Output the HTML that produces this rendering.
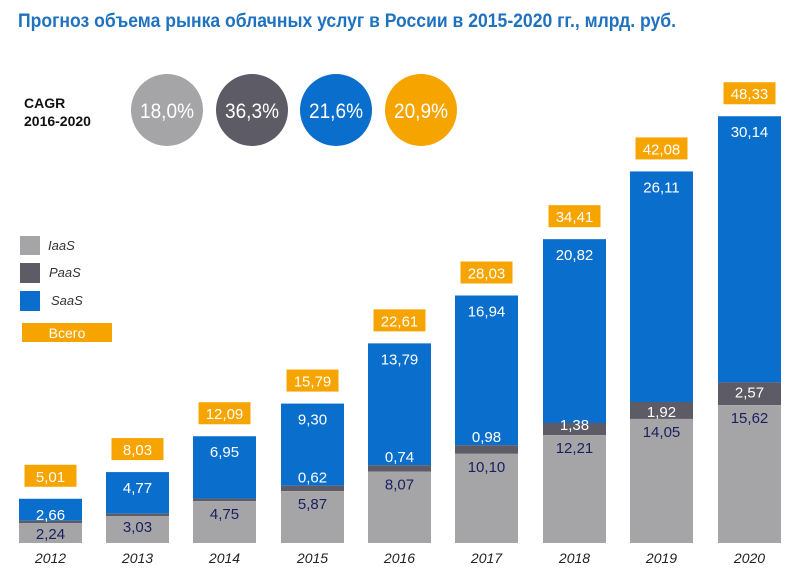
<!DOCTYPE html>
<html><head><meta charset="utf-8"><style>
html,body{margin:0;padding:0;background:#fff;}
svg{display:block;font-family:"Liberation Sans",sans-serif;}
</style></head><body>
<svg width="794" height="574" viewBox="0 0 794 574" xmlns="http://www.w3.org/2000/svg">
<text x="18" y="27" font-size="19" font-weight="bold" fill="#1f72bf" textLength="658" lengthAdjust="spacingAndGlyphs">Прогноз объема рынка облачных услуг в России в 2015-2020 гг., млрд. руб.</text>
<text x="24" y="108" font-size="14" font-weight="bold" fill="#111">CAGR</text>
<text x="24" y="126" font-size="14" font-weight="bold" fill="#111">2016-2020</text>
<circle cx="167" cy="110" r="36" fill="#a5a5a7"/>
<circle cx="252" cy="110" r="36" fill="#5c5b66"/>
<circle cx="336" cy="110" r="36" fill="#0a6fcc"/>
<circle cx="421" cy="110" r="36" fill="#f6a400"/>
<g font-size="21" fill="#fff" text-anchor="middle">
<text x="167" y="118" textLength="54" lengthAdjust="spacingAndGlyphs">18,0%</text>
<text x="252" y="118" textLength="54" lengthAdjust="spacingAndGlyphs">36,3%</text>
<text x="336" y="118" textLength="54" lengthAdjust="spacingAndGlyphs">21,6%</text>
<text x="421" y="118" textLength="54" lengthAdjust="spacingAndGlyphs">20,9%</text>
</g>
<rect x="20" y="236" width="20" height="19" fill="#a5a5a7"/>
<rect x="20" y="263" width="20" height="20" fill="#5c5b66"/>
<rect x="20" y="291" width="20" height="20" fill="#0a6fcc"/>
<g font-size="13" font-style="italic" fill="#333">
<text x="48" y="250">IaaS</text><text x="49" y="277">PaaS</text><text x="51" y="305">SaaS</text>
</g>
<rect x="22" y="323" width="90" height="19" fill="#f6a400"/>
<text x="67" y="338" font-size="14" fill="#fff" text-anchor="middle">Всего</text>
<g id="bars"></g>
</svg>
<script>
var d=[[2012,2.24,0,2.66,5.01],[2013,3.03,0,4.77,8.03],[2014,4.75,0,6.95,12.09],[2015,5.87,0.62,9.30,15.79],[2016,8.07,0.74,13.79,22.61],[2017,10.10,0.98,16.94,28.03],[2018,12.21,1.38,20.82,34.41],[2019,14.05,1.92,26.11,42.08],[2020,15.62,2.57,30.14,48.33]];
var xs=[19,106,193,281,368,455,543,630,718],B=543,k=8.83,w=63,s='';
function f(v){return v.toFixed(2).replace('.',',');}
d.forEach(function(r,i){var x=xs[i],c=x+w/2;
var g=B-r[1]*k,p=g-Math.max(r[2]*k,r[2]?0:2.5),t=B-r[4]*k;
s+='<rect x="'+x+'" y="'+t+'" width="'+w+'" height="'+(p-t)+'" fill="#0a6fcc"/>';
s+='<rect x="'+x+'" y="'+p+'" width="'+w+'" height="'+(g-p)+'" fill="#5c5b66"/>';
s+='<rect x="'+x+'" y="'+g+'" width="'+w+'" height="'+(B-g)+'" fill="#a5a5a7"/>';
s+='<rect x="'+(c-26)+'" y="'+(t-34)+'" width="52" height="22" fill="#f6a400"/>';
s+='<text x="'+c+'" y="'+(t-17)+'" font-size="15" fill="#fff" text-anchor="middle">'+f(r[4])+'</text>';
s+='<text x="'+c+'" y="'+(t+21)+'" font-size="15" fill="#fff" text-anchor="middle">'+f(r[3])+'</text>';
var gy=i<2?g+16:g+18;
s+='<text x="'+c+'" y="'+gy+'" font-size="15" fill="#1a1f5e" text-anchor="middle">'+f(r[1])+'</text>';
if(r[2]){var py=i>=7?p+15:(i==6?g-5:p-3);
s+='<text x="'+c+'" y="'+py+'" font-size="15" fill="#fff" text-anchor="middle">'+f(r[2])+'</text>';}
s+='<text x="'+c+'" y="563" font-size="14" font-style="italic" fill="#222" text-anchor="middle">'+r[0]+'</text>';
});
document.getElementById('bars').innerHTML=s;
</script>
</body></html>
